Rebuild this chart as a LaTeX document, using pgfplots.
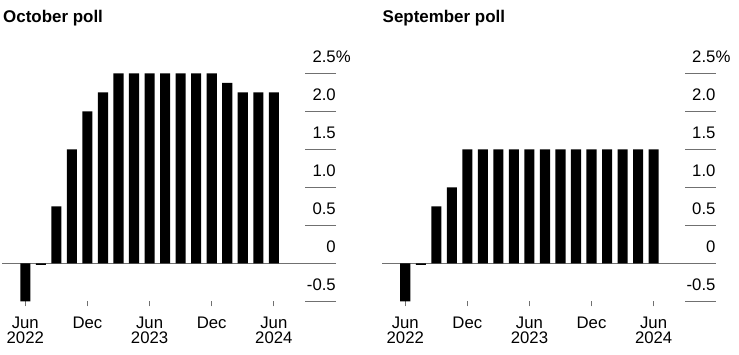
\documentclass[border=0pt]{standalone}
\usepackage{pgfplots}
\usepackage{pgfplotstable}
\pgfplotsset{compat=1.18}
\usepackage{fontspec}
\setmainfont{Liberation Sans}
\definecolor{lg}{HTML}{707070}

\pgfplotstableread{
i v
0 -0.5
1 -0.02
2 0.75
3 1.5
4 2.0
5 2.25
6 2.5
7 2.5
8 2.5
9 2.5
10 2.5
11 2.5
12 2.5
13 2.375
14 2.25
15 2.25
16 2.25
}\octpoll

\pgfplotstableread{
i v
0 -0.5
1 -0.02
2 0.75
3 1.0
4 1.5
5 1.5
6 1.5
7 1.5
8 1.5
9 1.5
10 1.5
11 1.5
12 1.5
13 1.5
14 1.5
15 1.5
16 1.5
}\seppoll

\pgfplotsset{panel/.style={
  scale only axis, height=228bp,
  xmin=-1.5, xmax=20, ymin=-0.5, ymax=2.5,
  axis x line*=bottom, axis y line*=right,
  axis line style={draw=none},
  clip=false,
  xtick={0,4,8,12,16},
  xticklabels={{Jun\\2022},Dec,{Jun\\2023},Dec,{Jun\\2024}},
  ytick={-0.5,0,0.5,1,1.5,2,2.5},
  yticklabels={-0.5,0,0.5,1.0,1.5,2.0,2.5\rlap{\%}},
  xtick align=outside, ytick align=inside,
  major tick length=30.5bp,
  xtick style={lg, line width=0.8bp, /pgfplots/major tick length=5bp},
  ytick style={lg, line width=1bp},
  xticklabel style={font=\fontsize{16.8}{15.7}\selectfont, align=center, anchor=north, inner sep=0pt, yshift=15.5bp},
  yticklabel style={font=\fontsize{16.8}{16}\selectfont, anchor=base east, inner sep=0pt, yshift=11bp},
}}

\begin{document}
\begin{tikzpicture}
\useasboundingbox (0,0) rectangle (739bp,-355bp);
\node[anchor=base west, inner sep=0pt, font=\fontsize{17}{19}\selectfont\bfseries] at (3bp,-22bp) {October poll};
\node[anchor=base west, inner sep=0pt, font=\fontsize{17}{19}\selectfont\bfseries] at (382.5bp,-22bp) {September poll};

\begin{axis}[panel, width=334bp, at={(2bp,-301.3bp)}, anchor=south west]
\draw[lg, line width=1bp] (axis cs:-1.5,0) -- (axis cs:20,0);
\addplot[ybar, bar width=0.65, fill=black, draw=none] table[x=i, y=v] {\octpoll};
\end{axis}

\begin{axis}[panel, width=333.7bp, at={(382bp,-301.3bp)}, anchor=south west]
\draw[lg, line width=1bp] (axis cs:-1.5,0) -- (axis cs:20,0);
\addplot[ybar, bar width=0.65, fill=black, draw=none] table[x=i, y=v] {\seppoll};
\end{axis}
\end{tikzpicture}
\end{document}
